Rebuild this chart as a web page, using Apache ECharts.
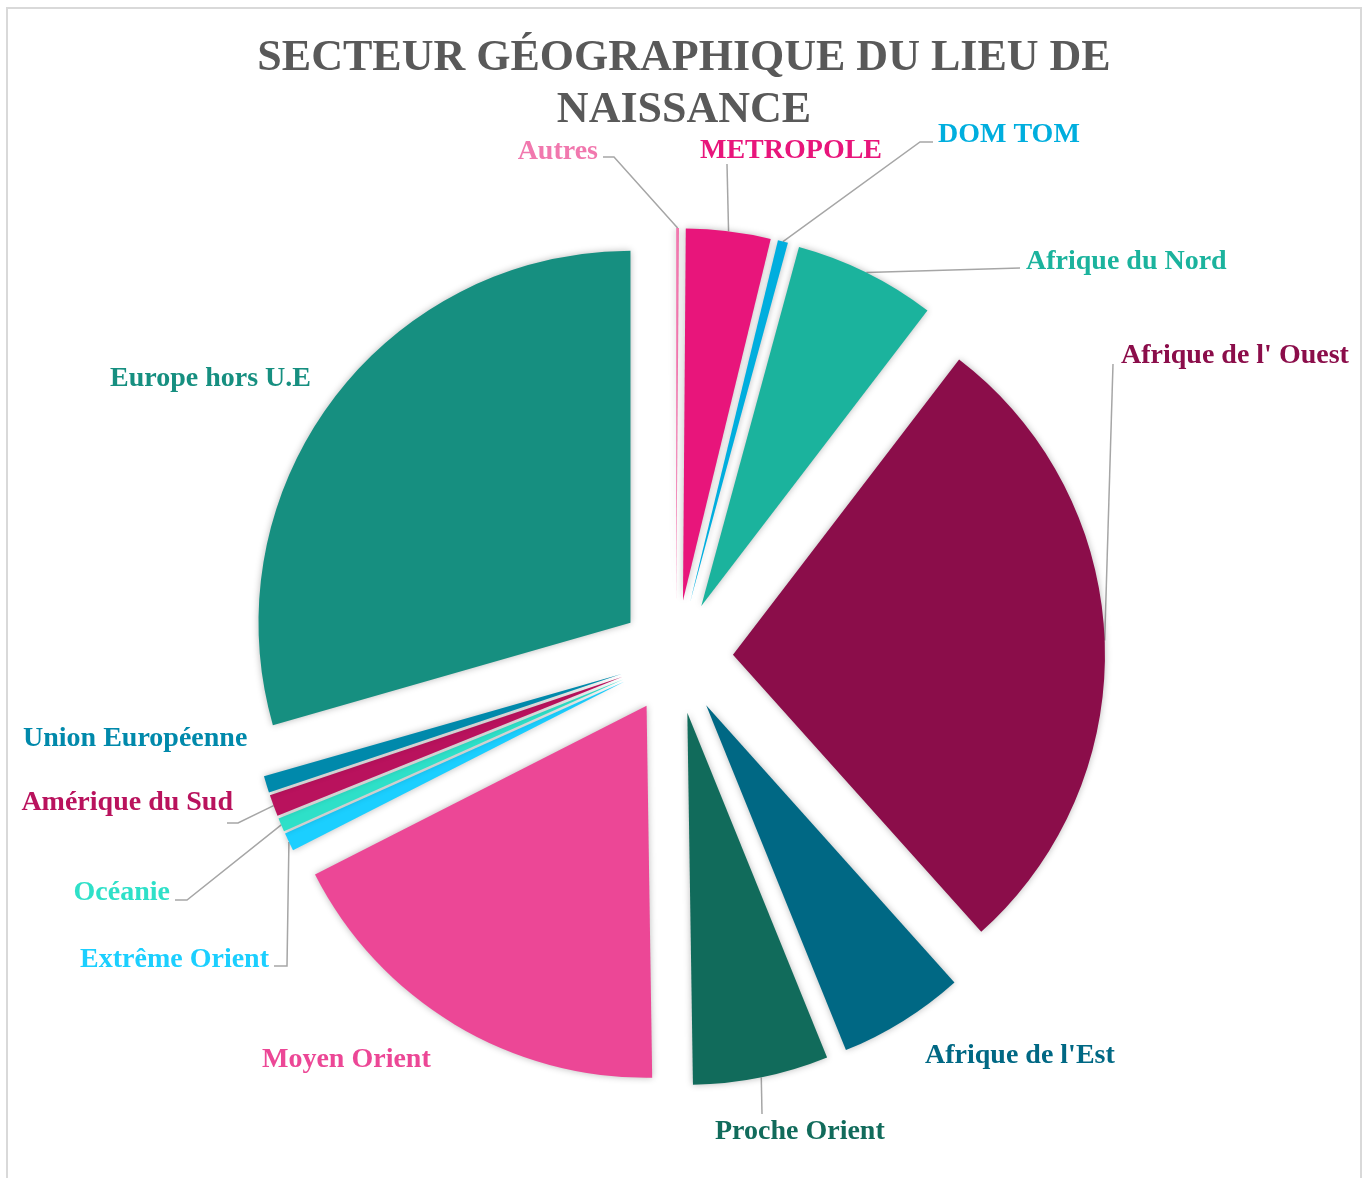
<!DOCTYPE html>
<html>
<head>
<meta charset="utf-8">
<script src="https://cdn.jsdelivr.net/npm/echarts@6/dist/echarts.min.js"></script>
<style>
    body { margin: 0; background: #fff; }
    #wrap { position: relative; width: 1368px; height: 1178px; overflow: hidden; }
    #frame { position: absolute; left: 6px; top: 7px; width: 1352px; height: 1200px; border: 2px solid #d9d9d9; }
    #chart { position: absolute; left: 0; top: 0; width: 1368px; height: 1178px; }
</style>
</head>
<body>
<div id="wrap">
    <div id="frame"></div>
    <div id="chart"></div>
</div>
<script>
// secteurs, dans l'ordre horaire depuis midi
const categories = ['Autres', 'METROPOLE', 'DOM TOM', 'Afrique du Nord', "Afrique de l' Ouest", "Afrique de l'Est",
    'Proche Orient', 'Moyen Orient', 'Extrême Orient', 'Océanie', 'Amérique du Sud', 'Union Européenne', 'Europe hors U.E'];
// parts en %
const shares = [0.12, 3.67, 0.44, 6.17, 27.97, 5.50, 5.89, 17.75, 0.79, 0.60, 0.94, 0.72, 29.44];

const colors = ['#f178ae', '#e8157b', '#00aede', '#1bb39d', '#8b0d4a', '#006884',
    '#116b5b', '#ec4796', '#1bcfff', '#2ee0c8', '#b9125d', '#0089ab', '#168f80'];

const CX = 676, CY = 657, R = 372, EXPLODE = 57;

// étiquettes : [x, y, align, coude du trait, fin du trait] (null = pas de trait)
const labelPos = [
    [598, 152, 'right', [614, 157], [603, 157]],
    [700, 151, 'left', null, [727, 164]],
    [938, 135, 'left', [920, 142], [933, 142]],
    [1026, 262, 'left', null, [1020, 268]],
    [1121, 356, 'left', null, [1113, 364]],
    [925, 1056, 'left', null, null],
    [715, 1132, 'left', null, [762, 1114]],
    [262, 1060, 'left', null, null],
    [269, 960, 'right', [287, 966], [274, 966]],
    [170, 893, 'right', [187, 900], [175, 900]],
    [233, 803, 'right', [238, 823], [227, 823]],
    [23, 739, 'left', null, null],
    [110, 379, 'left', null, null]
];

let myChart = echarts.init(document.getElementById('chart'));
myChart.setOption({
    animation: false,
    title: {
        text: 'SECTEUR GÉOGRAPHIQUE DU LIEU DE\nNAISSANCE',
        left: 'center',
        top: 28,
        textStyle: {
            fontFamily: 'Liberation Serif',
            fontWeight: 'bold',
            fontSize: 44,
            lineHeight: 52,
            color: '#595959'
        }
    },
    series: [
        {
            // parts éclatées
            type: 'pie',
            center: [CX, CY],
            radius: R,
            startAngle: 90,
            selectedMode: 'multiple',
            selectedOffset: EXPLODE,
            emphasis: { disabled: true },
            silent: true,
            itemStyle: {
                shadowBlur: 7,
                shadowColor: 'rgba(0,0,0,0.28)'
            },
            label: { show: false },
            labelLine: { show: false },
            data: categories.map(function (name, i) {
                return { name: name, value: shares[i], selected: true, itemStyle: { color: colors[i] } };
            })
        },
        {
            // même découpage, invisible, porte les étiquettes au bord des parts éclatées
            type: 'pie',
            center: [CX, CY],
            radius: R + EXPLODE,
            startAngle: 90,
            silent: true,
            emphasis: { disabled: true },
            itemStyle: { color: 'rgba(0,0,0,0)' },
            label: {
                position: 'outside',
                fontFamily: 'Liberation Serif',
                fontWeight: 'bold',
                fontSize: 28
            },
            labelLine: {
                length: 12,
                length2: 12,
                lineStyle: { color: '#a6a6a6', width: 1.5 }
            },
            labelLayout: function (p) {
                let pos = labelPos[p.dataIndex];
                let out = { x: pos[0], y: pos[1], align: pos[2], verticalAlign: 'middle' };
                if (pos[4] && p.labelLinePoints) {
                    let p0 = p.labelLinePoints[0];
                    out.labelLinePoints = pos[3] ? [p0, pos[3], pos[4]] : [p0, pos[4], pos[4]];
                }
                return out;
            },
            data: categories.map(function (name, i) {
                return {
                    name: name,
                    value: shares[i],
                    label: { color: colors[i] },
                    labelLine: { show: !!labelPos[i][4] }
                };
            })
        }
    ]
});
</script>
</body>
</html>
